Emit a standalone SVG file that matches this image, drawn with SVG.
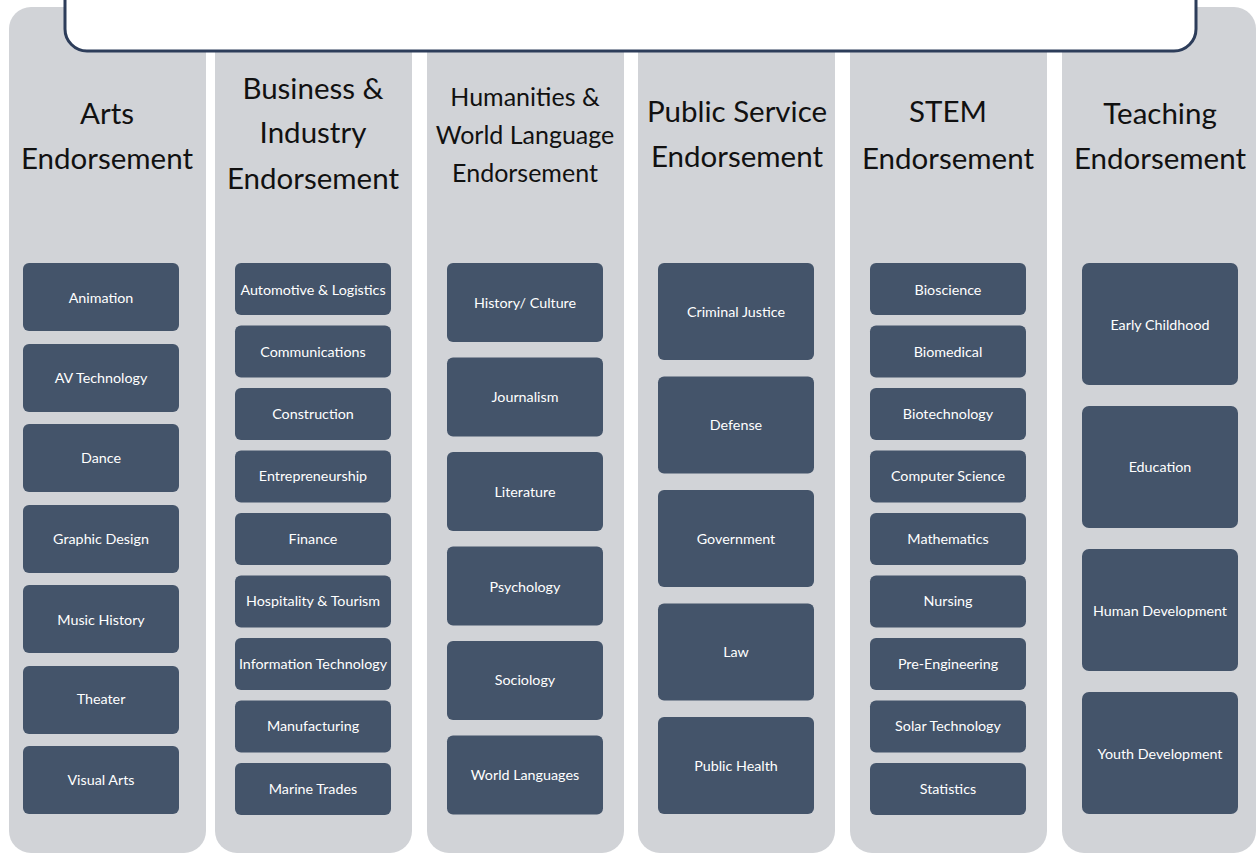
<svg xmlns="http://www.w3.org/2000/svg" width="1259" height="855" viewBox="0 0 1259 855">
<style>
.col{fill:#d1d3d7}
.box{fill:#44546a}
.lbl{font-family:Lato,"Liberation Sans",sans-serif;font-size:14.3px;fill:#ffffff;text-anchor:middle}
.hd{font-family:Lato,"Liberation Sans",sans-serif;font-size:29.5px;fill:#111111;text-anchor:middle}
.hd3{font-family:Lato,"Liberation Sans",sans-serif;font-size:25px;fill:#111111;text-anchor:middle}
</style>
<rect width="1259" height="855" fill="#ffffff"/>
<g id="columns">
<rect class="col" x="9" y="7" width="197" height="846" rx="22"/>
<rect class="col" x="215" y="7" width="197" height="846" rx="22"/>
<rect class="col" x="427" y="7" width="197" height="846" rx="22"/>
<rect class="col" x="638" y="7" width="197" height="846" rx="22"/>
<rect class="col" x="850" y="7" width="197" height="846" rx="22"/>
<rect class="col" x="1062" y="7" width="194" height="846" rx="22"/>
</g>
<g id="banner">
<rect x="65" y="-40" width="1131" height="91" rx="22" fill="#ffffff" stroke="#2d3d5a" stroke-width="3"/>
</g>
<g id="arts">
<text class="hd" x="107" y="124">Arts</text>
<text class="hd" x="107" y="169">Endorsement</text>
<rect class="box" x="23" y="263" width="156" height="68" rx="6"/><text class="lbl" x="101" y="303">Animation</text>
<rect class="box" x="23" y="344" width="156" height="68" rx="6"/><text class="lbl" x="101" y="383">AV Technology</text>
<rect class="box" x="23" y="424" width="156" height="68" rx="6"/><text class="lbl" x="101" y="463">Dance</text>
<rect class="box" x="23" y="505" width="156" height="68" rx="6"/><text class="lbl" x="101" y="544">Graphic Design</text>
<rect class="box" x="23" y="585" width="156" height="68" rx="6"/><text class="lbl" x="101" y="625">Music History</text>
<rect class="box" x="23" y="666" width="156" height="68" rx="6"/><text class="lbl" x="101" y="704">Theater</text>
<rect class="box" x="23" y="746" width="156" height="68" rx="6"/><text class="lbl" x="101" y="785">Visual Arts</text>
</g>
<g id="business">
<text class="hd" x="313" y="99">Business &amp;</text>
<text class="hd" x="313" y="143">Industry</text>
<text class="hd" x="313" y="189">Endorsement</text>
<rect class="box" x="235" y="263" width="156" height="52" rx="6"/><text class="lbl" x="313" y="295">Automotive &amp; Logistics</text>
<rect class="box" x="235" y="325.5" width="156" height="52" rx="6"/><text class="lbl" x="313" y="357">Communications</text>
<rect class="box" x="235" y="388" width="156" height="52" rx="6"/><text class="lbl" x="313" y="419">Construction</text>
<rect class="box" x="235" y="450.5" width="156" height="52" rx="6"/><text class="lbl" x="313" y="481">Entrepreneurship</text>
<rect class="box" x="235" y="513" width="156" height="52" rx="6"/><text class="lbl" x="313" y="544">Finance</text>
<rect class="box" x="235" y="575.5" width="156" height="52" rx="6"/><text class="lbl" x="313" y="606">Hospitality &amp; Tourism</text>
<rect class="box" x="235" y="638" width="156" height="52" rx="6"/><text class="lbl" x="313" y="669">Information Technology</text>
<rect class="box" x="235" y="700.5" width="156" height="52" rx="6"/><text class="lbl" x="313" y="731">Manufacturing</text>
<rect class="box" x="235" y="763" width="156" height="52" rx="6"/><text class="lbl" x="313" y="794">Marine Trades</text>
</g>
<g id="humanities">
<text class="hd3" x="525" y="106">Humanities &amp;</text>
<text class="hd3" x="525" y="144">World Language</text>
<text class="hd3" x="525" y="182">Endorsement</text>
<rect class="box" x="447" y="263" width="156" height="79" rx="6"/><text class="lbl" x="525" y="308">History/ Culture</text>
<rect class="box" x="447" y="357.5" width="156" height="79" rx="6"/><text class="lbl" x="525" y="402">Journalism</text>
<rect class="box" x="447" y="452" width="156" height="79" rx="6"/><text class="lbl" x="525" y="497">Literature</text>
<rect class="box" x="447" y="546.5" width="156" height="79" rx="6"/><text class="lbl" x="525" y="592">Psychology</text>
<rect class="box" x="447" y="641" width="156" height="79" rx="6"/><text class="lbl" x="525" y="685">Sociology</text>
<rect class="box" x="447" y="735.5" width="156" height="79" rx="6"/><text class="lbl" x="525" y="780">World Languages</text>
</g>
<g id="publicservice">
<text class="hd" x="737" y="122">Public Service</text>
<text class="hd" x="737" y="167">Endorsement</text>
<rect class="box" x="658" y="263" width="156" height="97" rx="6"/><text class="lbl" x="736" y="317">Criminal Justice</text>
<rect class="box" x="658" y="376.5" width="156" height="97" rx="6"/><text class="lbl" x="736" y="430">Defense</text>
<rect class="box" x="658" y="490" width="156" height="97" rx="6"/><text class="lbl" x="736" y="544">Government</text>
<rect class="box" x="658" y="603.5" width="156" height="97" rx="6"/><text class="lbl" x="736" y="657">Law</text>
<rect class="box" x="658" y="717" width="156" height="97" rx="6"/><text class="lbl" x="736" y="771">Public Health</text>
</g>
<g id="stem">
<text class="hd" x="948" y="122">STEM</text>
<text class="hd" x="948" y="169">Endorsement</text>
<rect class="box" x="870" y="263" width="156" height="52" rx="6"/><text class="lbl" x="948" y="295">Bioscience</text>
<rect class="box" x="870" y="325.5" width="156" height="52" rx="6"/><text class="lbl" x="948" y="357">Biomedical</text>
<rect class="box" x="870" y="388" width="156" height="52" rx="6"/><text class="lbl" x="948" y="419">Biotechnology</text>
<rect class="box" x="870" y="450.5" width="156" height="52" rx="6"/><text class="lbl" x="948" y="481">Computer Science</text>
<rect class="box" x="870" y="513" width="156" height="52" rx="6"/><text class="lbl" x="948" y="544">Mathematics</text>
<rect class="box" x="870" y="575.5" width="156" height="52" rx="6"/><text class="lbl" x="948" y="606">Nursing</text>
<rect class="box" x="870" y="638" width="156" height="52" rx="6"/><text class="lbl" x="948" y="669">Pre-Engineering</text>
<rect class="box" x="870" y="700.5" width="156" height="52" rx="6"/><text class="lbl" x="948" y="731">Solar Technology</text>
<rect class="box" x="870" y="763" width="156" height="52" rx="6"/><text class="lbl" x="948" y="794">Statistics</text>
</g>
<g id="teaching">
<text class="hd" x="1160" y="124">Teaching</text>
<text class="hd" x="1160" y="169">Endorsement</text>
<rect class="box" x="1082" y="263" width="156" height="122" rx="7"/><text class="lbl" x="1160" y="330">Early Childhood</text>
<rect class="box" x="1082" y="406" width="156" height="122" rx="7"/><text class="lbl" x="1160" y="472">Education</text>
<rect class="box" x="1082" y="549" width="156" height="122" rx="7"/><text class="lbl" x="1160" y="616">Human Development</text>
<rect class="box" x="1082" y="692" width="156" height="122" rx="7"/><text class="lbl" x="1160" y="759">Youth Development</text>
</g>
<g id="connectors"></g>
</svg>
